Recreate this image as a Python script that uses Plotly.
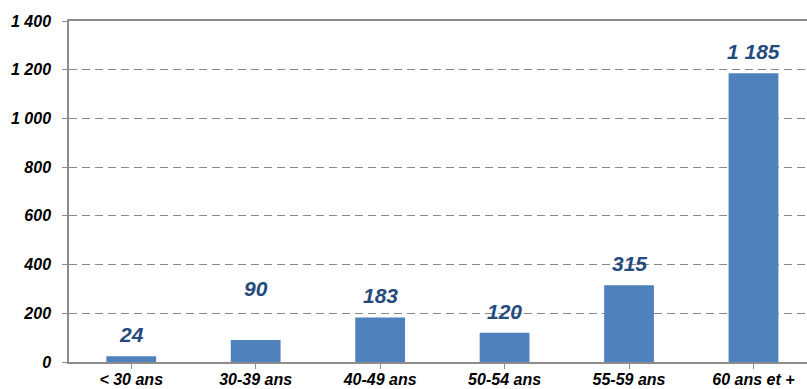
import plotly.graph_objects as go

categories = ["< 30 ans", "30-39 ans", "40-49 ans", "50-54 ans", "55-59 ans", "60 ans et +"]
values = [24, 90, 183, 120, 315, 1185]
y_ticks = [0, 200, 400, 600, 800, 1000, 1200, 1400]
y_tick_labels = ["0", "200", "400", "600", "800", "1 000", "1 200", "1 400"]
# vertical gap (px) between bar top and its value label
label_gaps = [8, 38, 8, 8, 8, 8]

BAR = "#4F81BD"
LABEL = "#254A7E"
FONT = "Liberation Sans, Arial, sans-serif"


def fmt(v):
    return f"{v:,}".replace(",", " ")


fig = go.Figure(
    go.Bar(
        x=list(range(len(categories))),
        y=values,
        width=0.4,
        marker=dict(color=BAR, line=dict(width=0)),
        hoverinfo="skip",
    )
)

for i, (v, g) in enumerate(zip(values, label_gaps)):
    fig.add_annotation(
        x=i, y=v, text=f"<b><i>{fmt(v)}</i></b>", showarrow=False,
        yanchor="bottom", yshift=g,
        font=dict(family=FONT, size=21, color=LABEL),
    )

fig.update_layout(
    width=807, height=389,
    margin=dict(l=69, r=0, t=21, b=27),
    paper_bgcolor="white", plot_bgcolor="white",
    showlegend=False,
    bargap=0.6,
)

fig.update_xaxes(
    range=[-0.5, 5.43],
    tickvals=list(range(len(categories))),
    ticktext=[f"<b><i>{c}</i></b>" for c in categories],
    tickfont=dict(family=FONT, size=16, color="black"),
    showline=True, linecolor="#8C8C8C", linewidth=1.5, mirror=True,
    ticks="outside", ticklen=5, tickcolor="#8C8C8C", tickson="boundaries",
    ticklabelstandoff=-3, automargin=False,
    showgrid=False, zeroline=False,
)

fig.update_yaxes(
    range=[0, 1400],
    tickvals=y_ticks,
    ticktext=[f"<b><i>{t}</i></b>" for t in y_tick_labels],
    tickfont=dict(family=FONT, size=16, color="black"),
    showline=True, linecolor="#8C8C8C", linewidth=1.5,
    ticks="outside", ticklen=5, tickcolor="#8C8C8C",
    ticklabelstandoff=8, automargin=False,
    showgrid=True, gridcolor="#888888", griddash="8px,5px", gridwidth=1.2,
    zeroline=False,
)

fig.write_html("out.html")
